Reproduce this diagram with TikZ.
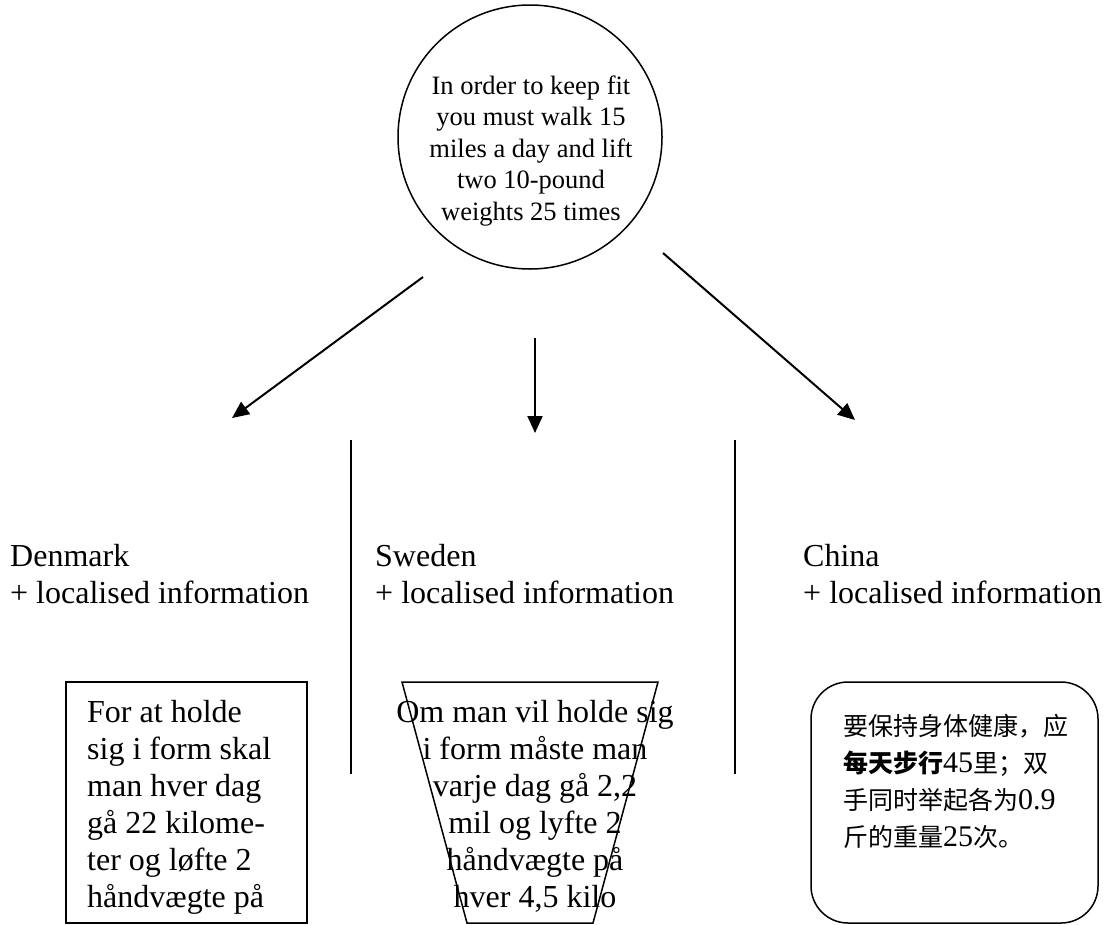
\documentclass[tikz,border=0pt]{standalone}
\usepackage{fontspec}
\setmainfont{Liberation Serif}
\newfontfamily\cjk{Noto Sans CJK SC}
\usetikzlibrary{arrows.meta}

% Chinese run at its own size; Latin digits stay in the main serif
\newcommand\zh[1]{{\fontsize{25}{37}\cjk #1}}

\tikzset{
  outline/.style={draw, line width=1.5pt, inner sep=0pt},
  flow/.style={line width=2pt, -{Triangle[length=17pt,width=15pt]}},
  divider/.style={line width=1.5pt},
  body/.style={inner sep=0pt, font=\fontsize{32}{37}\selectfont},
  lead/.style={inner sep=0pt, font=\fontsize{26.5}{31.5}\selectfont},
  zhbody/.style={inner sep=0pt, font=\fontsize{30}{37}\selectfont},
}

\begin{document}
\begin{tikzpicture}[x=1pt,y=-1pt]
\useasboundingbox (0,0) rectangle (1105,924);

% source message
\node[outline, circle, minimum size=264pt] (src) at (530,137) {};
\node[lead, anchor=base] (srctext) at (531,94)
  {\begin{tabular}[t]{@{}c@{}}In order to keep fit\\you must walk 15\\miles a day and lift\\two 10-pound\\weights 25 times\end{tabular}};

% arrows towards the three locales
\coordinate (dkFrom) at (423,277);
\coordinate (dkTo)   at (232,418);
\coordinate (seFrom) at (535,338);
\coordinate (seTo)   at (535,433);
\coordinate (cnFrom) at (663,253);
\coordinate (cnTo)   at (855,420);
\draw[flow] (dkFrom) -- (dkTo);
\draw[flow] (seFrom) -- (seTo);
\draw[flow] (cnFrom) -- (cnTo);

% column dividers
\coordinate (divAtop) at (351,440);
\coordinate (divAbot) at (351,774);
\coordinate (divBtop) at (735,440);
\coordinate (divBbot) at (735,774);
\draw[divider] (divAtop) -- (divAbot);
\draw[divider] (divBtop) -- (divBbot);

% locale labels
\node[body, anchor=base west] (dk) at (10,566)
  {\begin{tabular}[t]{@{}l@{}}Denmark\\+ localised information\end{tabular}};
\node[body, anchor=base west] (se) at (375,566)
  {\begin{tabular}[t]{@{}l@{}}Sweden\\+ localised information\end{tabular}};
\node[body, anchor=base west] (cn) at (803,566)
  {\begin{tabular}[t]{@{}l@{}}China\\+ localised information\end{tabular}};

% Danish version: plain box
\node[outline, minimum width=241pt, minimum height=241pt] (dkbox) at (186.5,802.5) {};
\node[body, anchor=base west] (dktext) at (87,722)
  {\begin{tabular}[t]{@{}l@{}}For at holde\\sig i form skal\\man hver dag\\gå 22 kilome-\\ter og løfte 2\\håndvægte på\end{tabular}};

% Swedish version: trapezoid
\coordinate (seTL) at (402,682);
\coordinate (seTR) at (658,682);
\coordinate (seBR) at (593,923);
\coordinate (seBL) at (467,923);
\draw[line width=1.5pt, line join=miter] (seTL) -- (seTR) -- (seBR) -- (seBL) -- cycle;
\node[body, anchor=base] (setext) at (535,722)
  {\begin{tabular}[t]{@{}c@{}}Om man vil holde sig\\i form måste man\\varje dag gå 2,2\\mil og lyfte 2\\håndvægte på\\hver 4,5 kilo\end{tabular}};

% Chinese version: rounded box
\node[outline, rounded corners=37pt, minimum width=287pt, minimum height=241pt] (cnbox) at (954.5,802.5) {};
\node[zhbody, anchor=base west] (cntext) at (843,735)
  {\begin{tabular}[t]{@{}l@{}}\zh{要保持身体健康，应}\\\zh{\bfseries 每天步行}45\zh{里；双}\\\zh{手同时举起各为}0.9\\\zh{斤的重量}25\zh{次。}\end{tabular}};
\end{tikzpicture}
\end{document}
